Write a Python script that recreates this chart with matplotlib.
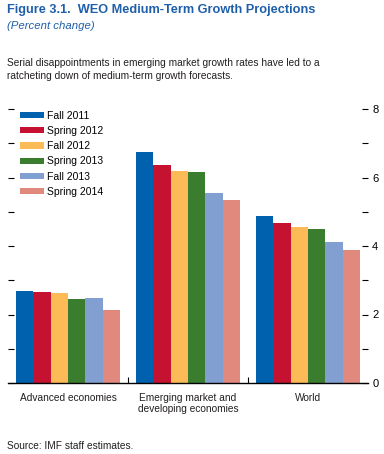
import matplotlib
matplotlib.use("Agg")
import matplotlib.pyplot as plt
import numpy as np
from matplotlib import font_manager as fm

names = {f.name for f in fm.fontManager.ttflist}
narrow = "Liberation Sans Narrow" if "Liberation Sans Narrow" in names else "Liberation Sans"
plt.rcParams['font.family'] = [narrow, 'DejaVu Sans']

categories = ["Advanced economies", "Emerging market and\ndeveloping economies", "World"]
series = ["Fall 2011", "Spring 2012", "Fall 2012", "Spring 2013", "Fall 2013", "Spring 2014"]
values = {
    "Fall 2011":   [2.69, 6.74, 4.88],
    "Spring 2012": [2.66, 6.36, 4.67],
    "Fall 2012":   [2.63, 6.19, 4.55],
    "Spring 2013": [2.45, 6.16, 4.50],
    "Fall 2013":   [2.48, 5.55, 4.12],
    "Spring 2014": [2.13, 5.34, 3.88],
}
colors = ["#0061AE", "#C41230", "#FDBB58", "#3A7D2E", "#829FD1", "#E0897C"]
yticks = [0, 2, 4, 6, 8]

fig = plt.figure(figsize=(3.84, 4.54), dpi=100)
ax = fig.add_axes([8/384, 1-383/454, 360/384, (383-109)/454])

x = np.arange(len(categories))
w = 0.1444
for i, s in enumerate(series):
    ax.bar(x - 2.5*w + i*w, values[s], width=w, color=colors[i], label=s, linewidth=0)

ax.set_xlim(-0.5, 2.5)
ax.set_ylim(0, 8)
for sp in ["top", "left", "right"]:
    ax.spines[sp].set_visible(False)
ax.spines["bottom"].set_linewidth(1.0)

ax.set_xticks(x)
ax.set_xticklabels(categories, fontsize=7.3, color="#231F20")
ax.set_xticks([0.5, 1.5], minor=True)
ax.tick_params(axis="x", which="major", length=0, pad=7)
ax.tick_params(axis="x", which="minor", direction="in", length=4, width=0.8)

ax.set_yticks(range(0, 9))
ax.set_yticklabels([str(v) if v in yticks else "" for v in range(0, 9)], fontsize=8)
ax.tick_params(axis="y", which="major", direction="in", length=4, width=0.8,
               left=True, right=True, labelleft=False, labelright=True, pad=3)

leg = ax.legend(loc="upper left", bbox_to_anchor=(0.025, 1.005), frameon=False, fontsize=7.5,
                handlelength=2.25, handleheight=0.55, handletextpad=0.3, labelspacing=0.5,
                borderaxespad=0.0, borderpad=0.3)

blue = "#1F5FAA"
fig.text(7/384, 1-4/454, "Figure 3.1.  WEO Medium-Term Growth Projections", fontsize=9.2,
         fontweight="bold", color=blue, va="top", ha="left")
fig.text(7/384, 1-21/454, "(Percent change)", fontsize=8.2, style="italic", color=blue,
         va="top", ha="left")
fig.text(7/384, 1-58/454, "Serial disappointments in emerging market growth rates have led to a\nratcheting down of medium-term growth forecasts.",
         fontsize=7.3, color="#231F20", va="top", ha="left", linespacing=1.35)
fig.text(7/384, 1-441/454, "Source: IMF staff estimates.", fontsize=7.3, color="#231F20",
         va="top", ha="left")

fig.savefig("out.png", dpi=100)
